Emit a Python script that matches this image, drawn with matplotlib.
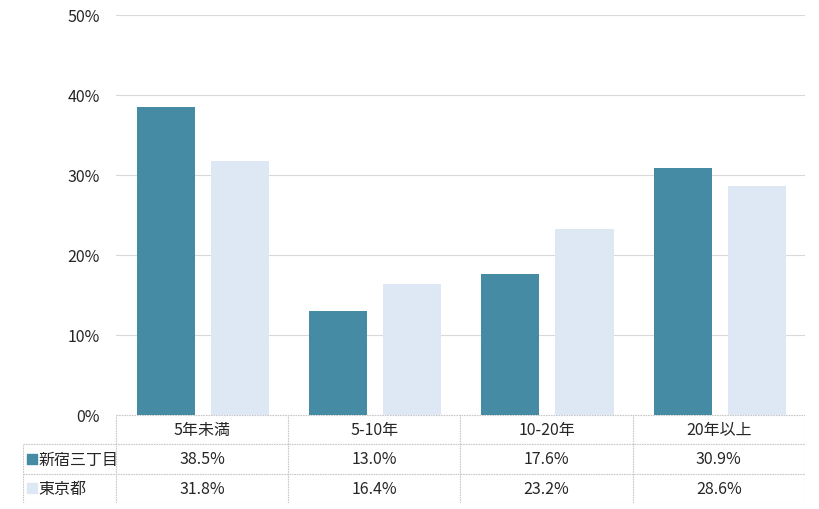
import matplotlib
matplotlib.use("Agg")
import matplotlib.pyplot as plt
import numpy as np

plt.rcParams['font.family'] = ['Noto Sans CJK JP', 'DejaVu Sans']

categories = ["5年未満", "5-10年", "10-20年", "20年以上"]
series_names = ["新宿三丁目", "東京都"]
shinjuku = [38.5, 13.0, 17.6, 30.9]
tokyo = [31.8, 16.4, 23.2, 28.6]
y_ticks = [0, 10, 20, 30, 40, 50]

colors = ["#458BA3", "#DDE8F4"]
grid_color = "#D9D9D9"
text_color = "#262626"
fs = 11.5

W, H = 820, 510
fig = plt.figure(figsize=(W / 100, H / 100), dpi=100)

# main chart area in pixel coords
px_left, px_right, px_top, px_bottom = 116, 805, 16, 416
ax = fig.add_axes([px_left / W, (H - px_bottom) / H,
                   (px_right - px_left) / W, (px_bottom - px_top) / H])

x = np.arange(len(categories))
bar_w = 0.337
off = 0.215
ax.bar(x - off + 0.005, shinjuku, bar_w, color=colors[0], zorder=3)
ax.bar(x + off + 0.005, tokyo, bar_w, color=colors[1], zorder=3)

ax.set_xlim(-0.5, len(categories) - 0.5)
ax.set_ylim(0, 50)
ax.set_yticks(y_ticks)
ax.set_yticklabels([f"{t}%" for t in y_ticks], fontsize=fs, color=text_color)
ax.set_xticks([])
ax.yaxis.grid(True, color=grid_color, linewidth=0.8, zorder=0)
ax.tick_params(axis="y", length=0, pad=11.5)
for s in ax.spines.values():
    s.set_visible(False)

# data table below chart
tb_left, tb_bottom = 23, 504
label_w = (px_left - tb_left) / (px_right - px_left) * len(categories)
tax = fig.add_axes([tb_left / W, (H - tb_bottom) / H,
                    (px_right - tb_left) / W, (tb_bottom - px_bottom) / H])
x0 = -0.5 - label_w
x_end = len(categories) - 0.5
tax.set_xlim(x0, x_end)
tax.set_ylim(0, 3)
tax.axis("off")

line_kw = dict(color="#C8C8C8", linewidth=0.8, linestyle=(0, (1.5, 0.8)))
# horizontal lines
tax.plot([-0.5, x_end], [3, 3], **line_kw)
for yy in [2, 1, 0]:
    tax.plot([x0, x_end], [yy, yy], **line_kw)
# vertical lines
tax.plot([x0, x0], [0, 2], **line_kw)
for i in range(len(categories) + 1):
    tax.plot([i - 0.5, i - 0.5], [0, 3], **line_kw)

for i, c in enumerate(categories):
    tax.text(i, 2.5, c, ha="center", va="center", fontsize=fs, color=text_color)
for r, (name, vals, col) in enumerate(zip(series_names, [shinjuku, tokyo], colors)):
    yy = 1.5 - r
    tax.scatter([x0 + 0.055], [yy], marker="s", s=45, color=col, clip_on=False)
    tax.text(x0 + 0.09, yy, name, ha="left", va="center", fontsize=fs, color=text_color)
    for i, v in enumerate(vals):
        tax.text(i, yy, f"{v:.1f}%", ha="center", va="center", fontsize=fs, color=text_color)

fig.savefig("out.png", dpi=100)
